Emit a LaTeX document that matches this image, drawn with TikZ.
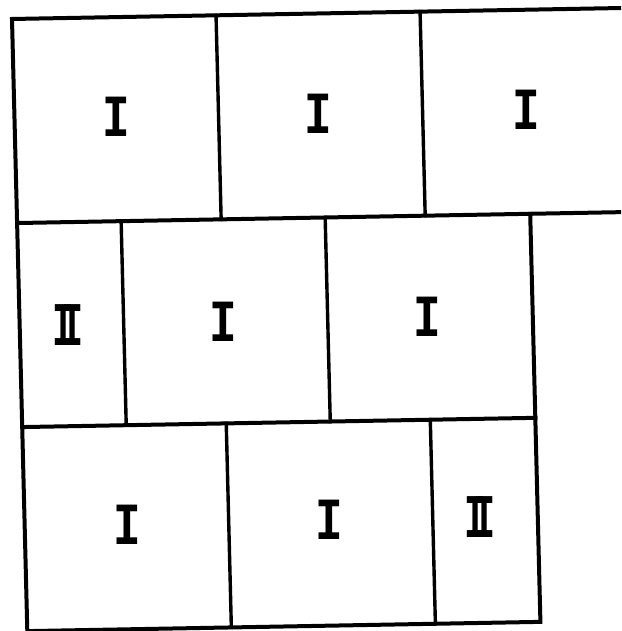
\documentclass[tikz,border=0pt]{standalone}
\usepackage{fontspec}
\usepackage{graphicx}
\newfontfamily\labfont{Liberation Mono}
\newcommand{\oneI}{\scalebox{1}[1.3]{I}}
\newcommand{\twoI}{\scalebox{0.8}[1.35]{I\kern-0.35em I}}
\begin{document}
\begin{tikzpicture}[x=1pt,y=1pt,
  hline/.style={line width=4pt, line cap=rect, line join=miter},
  vline/.style={line width=3.4pt, line cap=rect},
  lab/.style={font=\labfont\bfseries\fontsize{46}{46}\selectfont, inner sep=0pt}]
\useasboundingbox (0,0) rectangle (621,631);
\clip (0,0) rectangle (621,631);
\begin{scope}[cm={1,0.018,0.025,-1,(12pt,612pt)}]
  % grid points (local frame: u to the right, v downwards)
  \coordinate (t0) at (0,0);     \coordinate (t1) at (204,0);   \coordinate (t2) at (408,0);   \coordinate (tE) at (640,0);
  \coordinate (a0) at (0,204);   \coordinate (a1) at (104,204); \coordinate (a2) at (204,204); \coordinate (a3) at (308,204);
  \coordinate (a4) at (408,204); \coordinate (a5) at (513,204); \coordinate (aE) at (640,204);
  \coordinate (b0) at (0,408);   \coordinate (b1) at (104,408); \coordinate (b2) at (204,408); \coordinate (b3) at (308,408);
  \coordinate (b4) at (408,408); \coordinate (b5) at (513,408);
  \coordinate (c0) at (0,612);   \coordinate (c2) at (204,612); \coordinate (c4) at (408,612); \coordinate (c5) at (513,612);
  % outline and horizontals
  \draw[hline] (tE) -- (t0) -- (c0) -- (c5) -- (a5);
  \draw[hline] (a0) -- (aE);
  \draw[hline] (b0) -- (b5);
  % verticals
  \draw[vline] (t1) -- (a2);
  \draw[vline] (t2) -- (a4);
  \draw[vline] (a1) -- (b1);
  \draw[vline] (a3) -- (b3);
  \draw[vline] (b2) -- (c2);
  \draw[vline] (b4) -- (c4);
\end{scope}
% labels
\node[lab] (l11) at (116,514) {\oneI};
\node[lab] (l12) at (318,517) {\oneI};
\node[lab] (l13) at (526,521) {\oneI};
\node[lab] (l21) at (68,306) {\twoI};
\node[lab] (l22) at (223.5,309) {\oneI};
\node[lab] (l23) at (427,314) {\oneI};
\node[lab] (l31) at (127,106) {\oneI};
\node[lab] (l32) at (329,111) {\oneI};
\node[lab] (l33) at (480,114) {\twoI};
\end{tikzpicture}
\end{document}
